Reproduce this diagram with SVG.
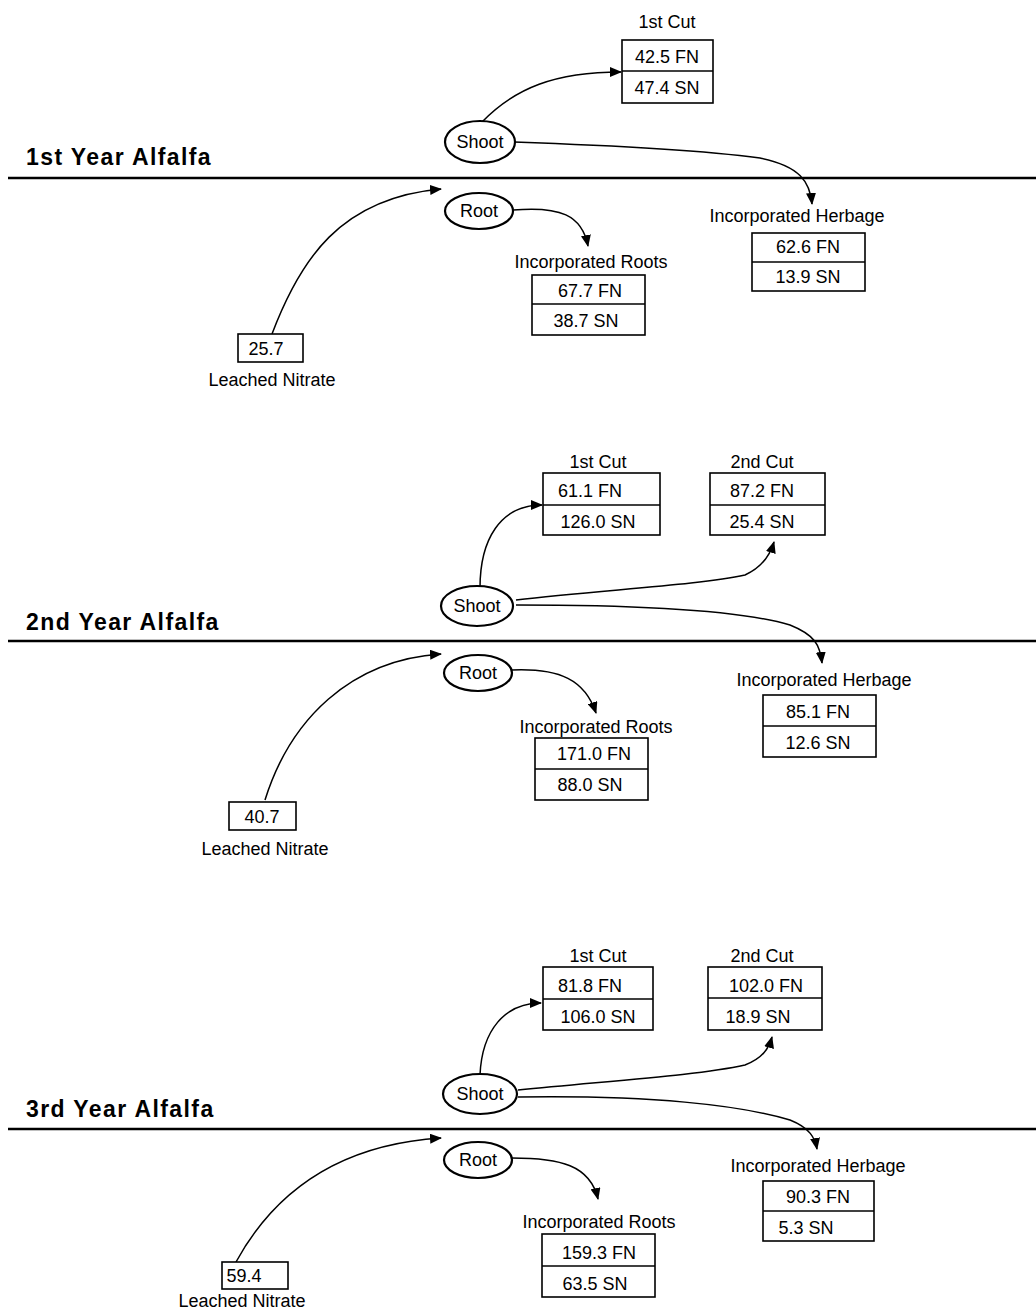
<svg xmlns="http://www.w3.org/2000/svg" width="1036" height="1314" viewBox="0 0 1036 1314">
<defs>
<style>
text{font-family:"Liberation Sans",Arial,sans-serif;fill:#000}
.lbl{font-size:18px;text-anchor:middle}
.val{font-size:18px;text-anchor:middle}
.title{font-size:23px;font-weight:bold;letter-spacing:1.4px}
.box{fill:#fff;stroke:#000;stroke-width:1.6}
.div{stroke:#000;stroke-width:1.6}
.ell{fill:#fff;stroke:#000;stroke-width:2.2}
.ground{stroke:#000;stroke-width:2.5}
.conn{fill:none;stroke:#000;stroke-width:1.5}
</style>
<marker id="ah" markerUnits="userSpaceOnUse" markerWidth="12" markerHeight="10" refX="11" refY="5" orient="auto">
<path d="M0,0 L12,5 L0,10 z" fill="#000"/>
</marker>
</defs>
<rect width="1036" height="1314" fill="#fff"/>

<!-- ground lines and titles -->
<g id="year1">
<text class="title" x="26" y="165">1st Year Alfalfa</text>
<line class="ground" x1="8" y1="178" x2="1036" y2="178"/>
</g>
<g id="year2">
<text class="title" x="26" y="630">2nd Year Alfalfa</text>
<line class="ground" x1="8" y1="641" x2="1036" y2="641"/>
</g>
<g id="year3">
<text class="title" x="26" y="1117">3rd Year Alfalfa</text>
<line class="ground" x1="8" y1="1129" x2="1036" y2="1129"/>
</g>

<!-- connectors -->
<g id="connectors">
<path class="conn" marker-end="url(#ah)" d="M482,122 C515,88 555,72 621,72"/>
<path class="conn" marker-end="url(#ah)" d="M514,142 C600,145 700,150 760,158 C800,166 810,182 812,204"/>
<path class="conn" marker-end="url(#ah)" d="M272,334 C300,260 340,198 441,189"/>
<path class="conn" marker-end="url(#ah)" d="M513,210 C560,206 582,215 588,246"/>

<path class="conn" marker-end="url(#ah)" d="M480,588 C480,540 500,505 542,505"/>
<path class="conn" marker-end="url(#ah)" d="M516,600 C600,590 700,585 745,575 C765,566 771,552 774,542"/>
<path class="conn" marker-end="url(#ah)" d="M516,605 C640,605 740,610 790,625 C815,635 820,645 822,663"/>
<path class="conn" marker-end="url(#ah)" d="M265,800 C290,720 350,660 441,654"/>
<path class="conn" marker-end="url(#ah)" d="M512,670 C560,668 585,680 596,713"/>

<path class="conn" marker-end="url(#ah)" d="M480,1075 C482,1030 505,1003 541,1003"/>
<path class="conn" marker-end="url(#ah)" d="M518,1090 C620,1080 700,1075 745,1065 C763,1058 769,1048 772,1037"/>
<path class="conn" marker-end="url(#ah)" d="M518,1097 C650,1095 740,1105 790,1120 C810,1128 815,1138 817,1149"/>
<path class="conn" marker-end="url(#ah)" d="M236,1262 C270,1200 330,1145 441,1138"/>
<path class="conn" marker-end="url(#ah)" d="M512,1158 C560,1158 590,1165 598,1199"/>
</g>

<!-- Panel 1 -->
<g id="p1-cut1">
<text class="lbl" x="667" y="28">1st Cut</text>
<rect class="box" x="622" y="40" width="91" height="63"/>
<line class="div" x1="622" y1="71" x2="713" y2="71"/>
<text class="val" x="667" y="63">42.5 FN</text>
<text class="val" x="667" y="94">47.4 SN</text>
</g>
<g id="p1-shoot">
<ellipse class="ell" cx="480" cy="142" rx="35" ry="21"/>
<text class="lbl" x="480" y="148">Shoot</text>
</g>
<g id="p1-root">
<ellipse class="ell" cx="479" cy="211" rx="34" ry="18"/>
<text class="lbl" x="479" y="217">Root</text>
</g>
<g id="p1-herbage">
<text class="lbl" x="797" y="222">Incorporated Herbage</text>
<rect class="box" x="752" y="233" width="113" height="58"/>
<line class="div" x1="752" y1="262" x2="865" y2="262"/>
<text class="val" x="808" y="253">62.6 FN</text>
<text class="val" x="808" y="283">13.9 SN</text>
</g>
<g id="p1-roots">
<text class="lbl" x="591" y="268">Incorporated Roots</text>
<rect class="box" x="532" y="275" width="113" height="60"/>
<line class="div" x1="532" y1="304" x2="645" y2="304"/>
<text class="val" x="590" y="297">67.7 FN</text>
<text class="val" x="586" y="327">38.7 SN</text>
</g>
<g id="p1-leached">
<rect class="box" x="238" y="334" width="65" height="28"/>
<text class="val" x="266" y="355">25.7</text>
<text class="lbl" x="272" y="386">Leached Nitrate</text>
</g>

<!-- Panel 2 -->
<g id="p2-cut1">
<text class="lbl" x="598" y="468">1st Cut</text>
<rect class="box" x="543" y="473" width="117" height="62"/>
<line class="div" x1="543" y1="505" x2="660" y2="505"/>
<text class="val" x="590" y="497">61.1 FN</text>
<text class="val" x="598" y="528">126.0 SN</text>
</g>
<g id="p2-cut2">
<text class="lbl" x="762" y="468">2nd Cut</text>
<rect class="box" x="710" y="473" width="115" height="62"/>
<line class="div" x1="710" y1="505" x2="825" y2="505"/>
<text class="val" x="762" y="497">87.2 FN</text>
<text class="val" x="762" y="528">25.4 SN</text>
</g>
<g id="p2-shoot">
<ellipse class="ell" cx="477" cy="606" rx="36" ry="20"/>
<text class="lbl" x="477" y="612">Shoot</text>
</g>
<g id="p2-root">
<ellipse class="ell" cx="478" cy="673" rx="34" ry="18"/>
<text class="lbl" x="478" y="679">Root</text>
</g>
<g id="p2-herbage">
<text class="lbl" x="824" y="686">Incorporated Herbage</text>
<rect class="box" x="763" y="695" width="113" height="62"/>
<line class="div" x1="763" y1="726" x2="876" y2="726"/>
<text class="val" x="818" y="718">85.1 FN</text>
<text class="val" x="818" y="749">12.6 SN</text>
</g>
<g id="p2-roots">
<text class="lbl" x="596" y="733">Incorporated Roots</text>
<rect class="box" x="535" y="738" width="113" height="62"/>
<line class="div" x1="535" y1="769" x2="648" y2="769"/>
<text class="val" x="594" y="760">171.0 FN</text>
<text class="val" x="590" y="791">88.0 SN</text>
</g>
<g id="p2-leached">
<rect class="box" x="229" y="802" width="67" height="28"/>
<text class="val" x="262" y="823">40.7</text>
<text class="lbl" x="265" y="855">Leached Nitrate</text>
</g>

<!-- Panel 3 -->
<g id="p3-cut1">
<text class="lbl" x="598" y="962">1st Cut</text>
<rect class="box" x="543" y="967" width="110" height="63"/>
<line class="div" x1="543" y1="999" x2="653" y2="999"/>
<text class="val" x="590" y="992">81.8 FN</text>
<text class="val" x="598" y="1023">106.0 SN</text>
</g>
<g id="p3-cut2">
<text class="lbl" x="762" y="962">2nd Cut</text>
<rect class="box" x="708" y="967" width="114" height="63"/>
<line class="div" x1="708" y1="998" x2="822" y2="998"/>
<text class="val" x="766" y="992">102.0 FN</text>
<text class="val" x="758" y="1023">18.9 SN</text>
</g>
<g id="p3-shoot">
<ellipse class="ell" cx="480" cy="1094" rx="37" ry="20"/>
<text class="lbl" x="480" y="1100">Shoot</text>
</g>
<g id="p3-root">
<ellipse class="ell" cx="478" cy="1160" rx="34" ry="18"/>
<text class="lbl" x="478" y="1166">Root</text>
</g>
<g id="p3-herbage">
<text class="lbl" x="818" y="1172">Incorporated Herbage</text>
<rect class="box" x="763" y="1181" width="111" height="60"/>
<line class="div" x1="763" y1="1211" x2="874" y2="1211"/>
<text class="val" x="818" y="1203">90.3 FN</text>
<text class="val" x="806" y="1234">5.3 SN</text>
</g>
<g id="p3-roots">
<text class="lbl" x="599" y="1228">Incorporated Roots</text>
<rect class="box" x="542" y="1234" width="113" height="63"/>
<line class="div" x1="542" y1="1266" x2="655" y2="1266"/>
<text class="val" x="599" y="1259">159.3 FN</text>
<text class="val" x="595" y="1290">63.5 SN</text>
</g>
<g id="p3-leached">
<rect class="box" x="222" y="1262" width="66" height="27"/>
<text class="val" x="244" y="1282">59.4</text>
<text class="lbl" x="242" y="1307">Leached Nitrate</text>
</g>
</svg>
